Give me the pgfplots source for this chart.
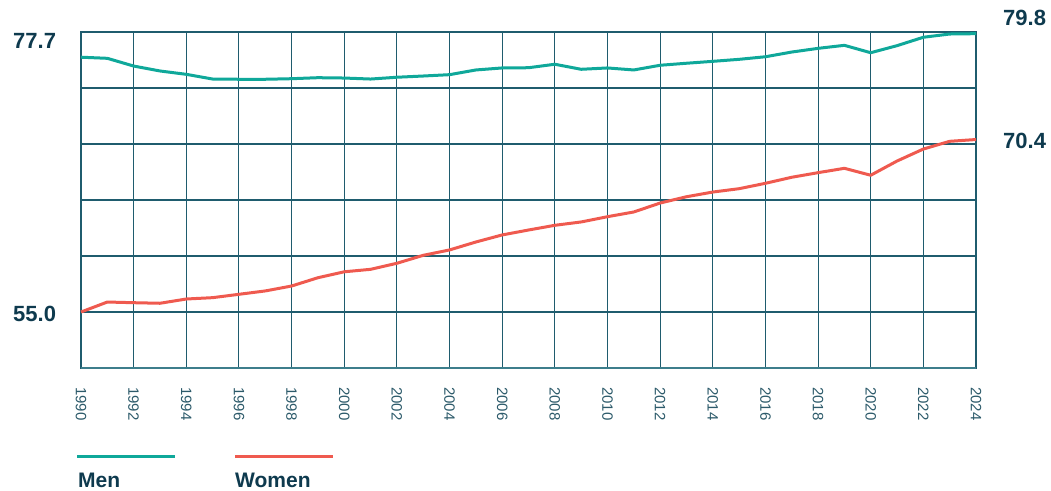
\documentclass[border=0pt]{standalone}
\usepackage{fontspec}
\setmainfont{Liberation Sans}
\usepackage{pgfplots}
\pgfplotsset{compat=1.18}
\definecolor{men}{HTML}{0FA89A}
\definecolor{women}{HTML}{EF5A4F}
\definecolor{gridc}{HTML}{1F5C6E}
\definecolor{axisc}{HTML}{3D7E8C}
\definecolor{txt}{HTML}{0E3A4E}
\definecolor{tickc}{HTML}{2C5A6A}
\begin{document}
\begin{tikzpicture}[x=1pt,y=1pt]
\useasboundingbox (0,0) rectangle (1051,490);
\begin{axis}[
  at={(81pt,122pt)}, anchor=south west,
  scale only axis, width=895pt, height=336pt,
  xmin=1990, xmax=2024, ymin=50, ymax=80,
  xtick={1990,1992,...,2024},
  xticklabels={1990,1992,1994,1996,1998,2000,2002,2004,2006,2008,2010,2012,2014,2016,2018,2020,2022,2024},
  ytick={50,55,...,80}, yticklabels={},
  grid=major, major grid style={gridc, line width=1.1pt},
  major tick length=0pt,
  axis line style={gridc, line width=1.1pt},
  /pgf/number format/assume math mode=true,
  xticklabel style={rotate=-90, anchor=west, inner sep=0pt, font=\fontsize{15}{15}\selectfont, text=tickc},
  xticklabel shift=19pt,
  clip=false,
]
\draw[axisc, line width=2pt] (rel axis cs:0,0) -- (rel axis cs:1,0);
\addplot[men, line width=3pt, line join=round] coordinates {
(1990,77.75) (1991,77.65) (1992,76.96) (1993,76.52) (1994,76.22) (1995,75.80)
(1996,75.78) (1997,75.78) (1998,75.83) (1999,75.92) (2000,75.89) (2001,75.80)
(2002,75.96) (2003,76.07) (2004,76.19) (2005,76.61) (2006,76.79) (2007,76.81)
(2008,77.12) (2009,76.67) (2010,76.79) (2011,76.61) (2012,77.03) (2013,77.21)
(2014,77.38) (2015,77.56) (2016,77.79) (2017,78.21) (2018,78.54) (2019,78.81)
(2020,78.15) (2021,78.78) (2022,79.53) (2023,79.82) (2024,79.85)
};
\addplot[women, line width=3pt, line join=round] coordinates {
(1990,55.0) (1991,55.89) (1992,55.83) (1993,55.78) (1994,56.16) (1995,56.28)
(1996,56.58) (1997,56.88) (1998,57.32) (1999,58.06) (2000,58.59) (2001,58.81)
(2002,59.35) (2003,60.06) (2004,60.54) (2005,61.25) (2006,61.88) (2007,62.32)
(2008,62.74) (2009,63.04) (2010,63.51) (2011,63.93) (2012,64.73) (2013,65.29)
(2014,65.71) (2015,66.01) (2016,66.49) (2017,67.03) (2018,67.44) (2019,67.83)
(2020,67.21) (2021,68.48) (2022,69.55) (2023,70.24) (2024,70.40)
};
\end{axis}
\begin{scope}[every node/.style={inner sep=0pt, text=txt, font=\fontsize{22}{22}\selectfont\bfseries}]
\node[anchor=base west] at (13,441) {77.7};
\node[anchor=base west] at (13,168) {55.0};
\node[anchor=base west] at (1003,464) {79.8};
\node[anchor=base west] at (1003,341) {70.4};
\end{scope}
\draw[men, line width=3pt] (77,33.3) -- (175,33.3);
\draw[women, line width=3pt] (235,33.3) -- (333,33.3);
\begin{scope}[every node/.style={inner sep=0pt, text=txt, font=\fontsize{21}{21}\selectfont\bfseries}]
\node[anchor=base west] at (78,2.5) {Men};
\node[anchor=base west] at (235,2.5) {Women};
\end{scope}
\end{tikzpicture}
\end{document}
